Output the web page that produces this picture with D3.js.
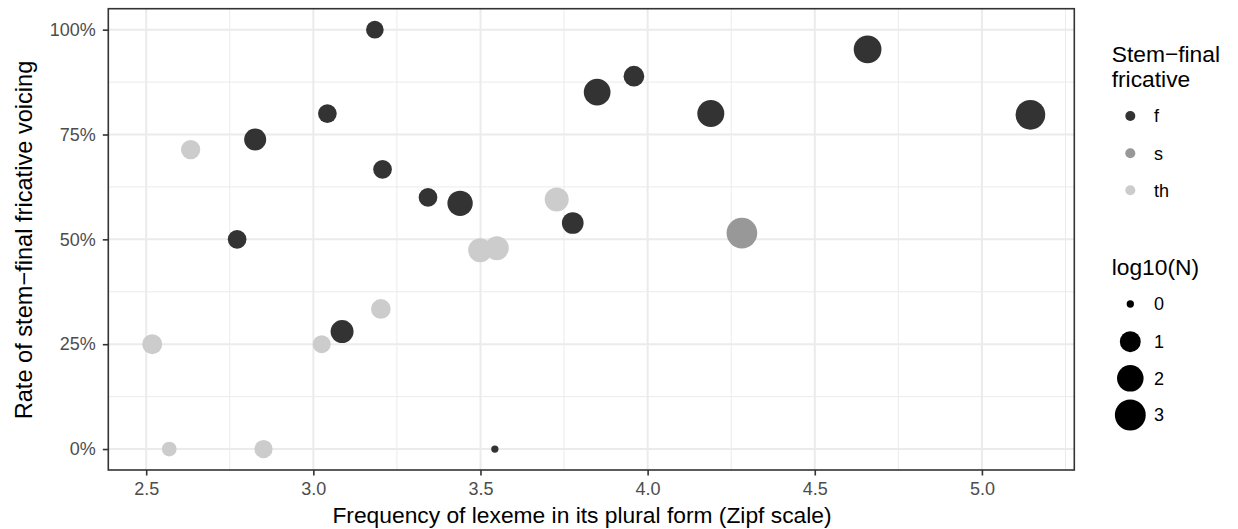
<!DOCTYPE html>
<html>
<head>
<meta charset="utf-8">
<script src="https://cdn.jsdelivr.net/npm/d3@7"></script>
<style>
  html, body { margin: 0; padding: 0; background: #ffffff; }
  svg { display: block; font-family: "Liberation Sans", Arial, Helvetica, sans-serif; }
</style>
</head>
<body>
<svg id="chart" width="1238" height="529"></svg>
<script>
// Lexemes: stem-final fricative, plural-form Zipf frequency, voicing rate, log10 token count
const fricative = ["th","f","f","f","f","f","f","th","f","f","th","th","f","f","f","f","f","s","th","f","th","th","th","th","f"];
const zipf      = [2.633,2.826,3.184,3.042,3.207,3.343,3.439,3.728,3.776,2.772,3.499,3.549,3.849,3.959,4.189,4.658,5.145,4.282,3.202,3.086,3.025,2.518,2.569,2.851,3.543];
const rate      = [0.714,0.738,1.000,0.800,0.667,0.600,0.586,0.595,0.539,0.500,0.474,0.479,0.851,0.889,0.800,0.953,0.797,0.515,0.334,0.280,0.250,0.250,0.000,0.000,0.000];
const logN      = [0.78,1.17,0.58,0.70,0.70,0.70,1.75,1.51,1.12,0.70,1.50,1.50,2.03,0.97,2.10,2.25,2.71,2.96,0.83,1.33,0.62,0.87,0.30,0.65,0.00];

const fricativeLevels = ["f", "s", "th"];
const fricativeColors = ["#333333", "#989898", "#cccccc"];
const xTicks = [2.5, 3.0, 3.5, 4.0, 4.5, 5.0];
const xMinor = [2.75, 3.25, 3.75, 4.25, 4.75, 5.25];
const yTicks = [0, 0.25, 0.5, 0.75, 1.0];
const yMinor = [0.125, 0.375, 0.625, 0.875];
const sizeBreaks = [0, 1, 2, 3];

const points = zipf.map((x, i) => ({ x, y: rate[i], fric: fricative[i], n: logN[i] }));

const svg = d3.select("#chart");
const panel = { left: 108.3, right: 1074.3, top: 8.7, bottom: 470 };

// continuous scales with 5% expansion on both ends
const xExt = d3.extent(zipf);
const xPad = (xExt[1] - xExt[0]) * 0.05;
const x = d3.scaleLinear().domain([xExt[0] - xPad, xExt[1] + xPad]).range([panel.left, panel.right]);
const y = d3.scaleLinear().domain([-0.05, 1.05]).range([panel.bottom, panel.top]);
const color = d3.scaleOrdinal().domain(fricativeLevels).range(fricativeColors);
const size = d3.scaleSqrt().domain([0, 3]).range([3.65, 15.43]);

// panel background and grid
svg.append("rect")
  .attr("x", panel.left).attr("y", panel.top)
  .attr("width", panel.right - panel.left).attr("height", panel.bottom - panel.top)
  .attr("fill", "#ffffff");

const grid = svg.append("g");
grid.selectAll("line.xmin").data(xMinor).join("line")
  .attr("x1", d => x(d)).attr("x2", d => x(d))
  .attr("y1", panel.top).attr("y2", panel.bottom)
  .attr("stroke", "#ebebeb").attr("stroke-width", 1);
grid.selectAll("line.ymin").data(yMinor).join("line")
  .attr("y1", d => y(d)).attr("y2", d => y(d))
  .attr("x1", panel.left).attr("x2", panel.right)
  .attr("stroke", "#ebebeb").attr("stroke-width", 1);
grid.selectAll("line.xmaj").data(xTicks).join("line")
  .attr("x1", d => x(d)).attr("x2", d => x(d))
  .attr("y1", panel.top).attr("y2", panel.bottom)
  .attr("stroke", "#ebebeb").attr("stroke-width", 2);
grid.selectAll("line.ymaj").data(yTicks).join("line")
  .attr("y1", d => y(d)).attr("y2", d => y(d))
  .attr("x1", panel.left).attr("x2", panel.right)
  .attr("stroke", "#ebebeb").attr("stroke-width", 2);

// points
svg.append("g").selectAll("circle").data(points).join("circle")
  .attr("cx", d => x(d.x))
  .attr("cy", d => y(d.y))
  .attr("r", d => size(d.n))
  .attr("fill", d => color(d.fric));

// panel border
svg.append("rect")
  .attr("x", panel.left).attr("y", panel.top)
  .attr("width", panel.right - panel.left).attr("height", panel.bottom - panel.top)
  .attr("fill", "none").attr("stroke", "#333333").attr("stroke-width", 1.6);

// axes
const xAxis = d3.axisBottom(x).tickValues(xTicks).tickFormat(d3.format(".1f")).tickSize(5.5).tickPadding(7);
const yAxis = d3.axisLeft(y).tickValues(yTicks).tickFormat(d3.format(".0%")).tickSize(5.5).tickPadding(7);

const gx = svg.append("g").attr("transform", `translate(0,${panel.bottom})`).call(xAxis);
const gy = svg.append("g").attr("transform", `translate(${panel.left},0)`).call(yAxis);
[gx, gy].forEach(g => {
  g.select(".domain").remove();
  g.selectAll(".tick line").attr("stroke", "#333333").attr("stroke-width", 1.6);
  g.selectAll(".tick text").attr("fill", "#4d4d4d").attr("font-size", 18)
    .attr("font-family", "'Liberation Sans', Arial, Helvetica, sans-serif");
});

// axis titles
svg.append("text")
  .attr("x", 582).attr("y", 523)
  .attr("text-anchor", "middle").attr("font-size", 22.8).attr("fill", "#000000")
  .text("Frequency of lexeme in its plural form (Zipf scale)");
svg.append("text")
  .attr("transform", `translate(31.5,240) rotate(-90)`)
  .attr("text-anchor", "middle").attr("font-size", 23.6).attr("fill", "#000000")
  .text("Rate of stem\u2212final fricative voicing");

// colour legend
const legX = 1111.7, keyX = 1130.3, labX = 1154;
const colLeg = svg.append("g");
colLeg.append("text").attr("x", legX).attr("y", 61.7).attr("font-size", 22.8).text("Stem\u2212final");
colLeg.append("text").attr("x", legX).attr("y", 86.7).attr("font-size", 22.8).text("fricative");
const colY = [116, 153.3, 190.3];
fricativeLevels.forEach((lv, i) => {
  colLeg.append("circle").attr("cx", keyX).attr("cy", colY[i]).attr("r", 5).attr("fill", color(lv));
  colLeg.append("text").attr("x", labX).attr("y", colY[i]).attr("dy", "0.35em")
    .attr("font-size", 18).attr("fill", "#000000").text(lv);
});

// size legend
const sizeLeg = svg.append("g");
sizeLeg.append("text").attr("x", legX).attr("y", 275).attr("font-size", 22.8).text("log10(N)");
const sizeY = [304, 341.7, 378.3, 415];
sizeBreaks.forEach((b, i) => {
  sizeLeg.append("circle").attr("cx", keyX).attr("cy", sizeY[i]).attr("r", size(b)).attr("fill", "#000000");
  sizeLeg.append("text").attr("x", labX).attr("y", sizeY[i]).attr("dy", "0.35em")
    .attr("font-size", 18).attr("fill", "#000000").text(b);
});
</script>
</body>
</html>
